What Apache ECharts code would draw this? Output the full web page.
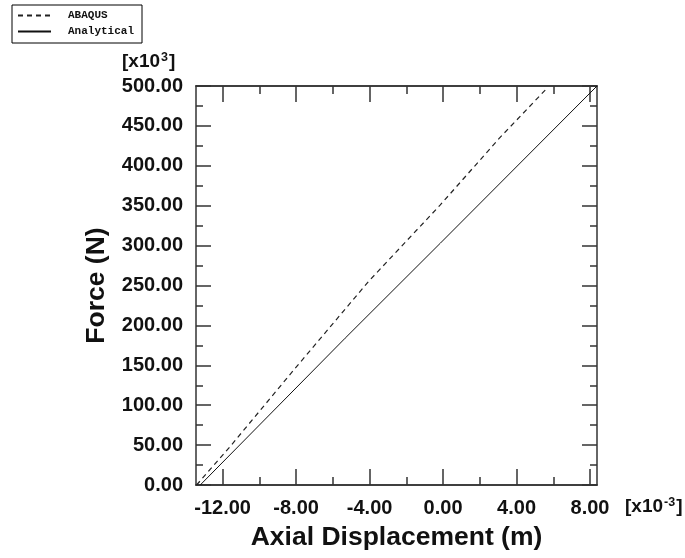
<!DOCTYPE html>
<html lang="en">
<head>
    <meta charset="UTF-8">
    <script src="https://cdn.jsdelivr.net/npm/echarts@6/dist/echarts.min.js"></script>
    <title>Force vs Axial Displacement</title>
    <style>
        html, body { margin: 0; padding: 0; background: #fff; }
        #chart { width: 685px; height: 558px; }
    </style>
</head>
<body>
<div id="chart"></div>
<script type="text/javascript">
    // displacement in x10^-3 m, force in x10^3 N
    var abaqusX = [-13.42, -11.6, -8.06, -4.06, -0.15, 3.04, 5.69];
    var abaqusY = [0, 48, 146, 255, 351, 434, 498];
    var analyticalX = [-13.22, -5.33, -0.15, 8.38];
    var analyticalY = [0, 184, 303, 500];

    var xMajorTicks = [-12, -8, -4, 0, 4, 8];
    var xMinorTicks = [-10, -6, -2, 2, 6];
    var xMin = -13.45, xMax = 8.38;

    function pairs(xs, ys) {
        var out = [];
        for (var i = 0; i < xs.length; i++) out.push([xs[i], ys[i]]);
        return out;
    }

    var axisColor = '#333';
    var labelFont = {fontFamily: 'Liberation Sans', fontWeight: 'bold', fontSize: 20, color: '#111'};
    var nameFont = {fontFamily: 'Liberation Sans', fontWeight: 'bold', fontSize: 26.5, color: '#111'};

    function xAxisDef(pos, major, showLabel) {
        return {
            type: 'value', position: pos, min: xMin, max: xMax,
            axisLine: {show: true, onZero: false, lineStyle: {color: axisColor, width: 1.5}},
            axisTick: {show: true, inside: true, length: major ? 16 : 8,
                customValues: major ? xMajorTicks : xMinorTicks,
                lineStyle: {color: axisColor, width: 1.5}},
            axisLabel: showLabel ? Object.assign({show: true, margin: 13,
                customValues: xMajorTicks,
                formatter: function (v) { return v.toFixed(2); }}, labelFont) : {show: false},
            splitLine: {show: false}
        };
    }

    function yAxisDef(pos, showLabel) {
        return {
            type: 'value', position: pos, min: 0, max: 500, interval: 50,
            axisLine: {show: true, onZero: false, lineStyle: {color: axisColor, width: 1.5}},
            axisTick: {show: true, inside: true, length: 15, lineStyle: {color: axisColor, width: 1.5}},
            minorTick: {show: true, splitNumber: 2, length: 7, lineStyle: {color: axisColor, width: 1.5}},
            axisLabel: showLabel ? Object.assign({show: true, margin: 13,
                formatter: function (v) { return v.toFixed(2); }}, labelFont) : {show: false},
            splitLine: {show: false}
        };
    }

    var xAxes = [xAxisDef('bottom', true, true), xAxisDef('bottom', false, false),
                 xAxisDef('top', true, false), xAxisDef('top', false, false)];
    xAxes[0].name = 'Axial Displacement (m)';
    xAxes[0].nameLocation = 'middle';
    xAxes[0].nameGap = 39;
    xAxes[0].nameTextStyle = nameFont;

    var yAxes = [yAxisDef('left', true), yAxisDef('right', false)];
    yAxes[0].name = 'Force (N)';
    yAxes[0].nameLocation = 'middle';
    yAxes[0].nameGap = 86;
    yAxes[0].nameTextStyle = nameFont;

    var supRich = {
        b: {fontFamily: 'Liberation Sans', fontWeight: 'bold', fontSize: 19, fill: '#111'},
        s: {fontFamily: 'Liberation Sans', fontWeight: 'bold', fontSize: 12.5, fill: '#111', verticalAlign: 'top', padding: [0, 1, 9, 1]}
    };

    var myChart = echarts.init(document.getElementById('chart'), null, {renderer: 'canvas'});
    var option = {
        backgroundColor: '#fff',
        animation: false,
        grid: {left: 196, right: 88, top: 86, bottom: 73, containLabel: false, outerBoundsMode: 'none'},
        legend: {
            orient: 'vertical', left: 12, top: 5,
            borderColor: '#000', borderWidth: 1,
            padding: [5, 8, 6, 5], itemGap: 5,
            itemWidth: 33, itemHeight: 12,
            itemStyle: {opacity: 0},
            data: ['ABAQUS', 'Analytical'],
            textStyle: {fontFamily: 'Liberation Mono', fontWeight: 'bold', fontSize: 11, color: '#111', padding: [0, 0, 0, 12]}
        },
        graphic: [
            {type: 'text', left: 122, top: 51,
                style: {rich: supRich, text: '{b|[x10}{s|3}{b|]}'}},
            {type: 'text', left: 625, top: 496,
                style: {rich: supRich, text: '{b|[x10}{s|-3}{b|]}'}}
        ],
        xAxis: xAxes,
        yAxis: yAxes,
        series: [
            {
                name: 'ABAQUS', type: 'line', xAxisIndex: 0, yAxisIndex: 0,
                showSymbol: false, symbol: 'none',
                lineStyle: {color: '#222', width: 1.2, type: [5, 4]},
                itemStyle: {color: '#222'},
                data: pairs(abaqusX, abaqusY)
            },
            {
                name: 'Analytical', type: 'line', xAxisIndex: 0, yAxisIndex: 0,
                showSymbol: false, symbol: 'none',
                lineStyle: {color: '#111', width: 1},
                itemStyle: {color: '#111'},
                data: pairs(analyticalX, analyticalY)
            }
        ]
    };
    myChart.setOption(option);
</script>
</body>
</html>
